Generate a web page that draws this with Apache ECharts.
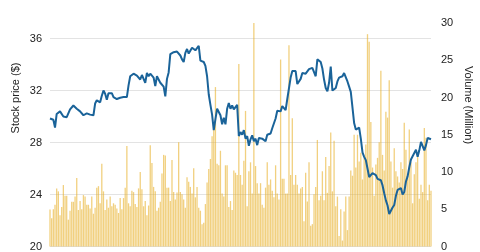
<!DOCTYPE html>
<html>
<head>
<meta charset="utf-8">
<script src="https://cdn.jsdelivr.net/npm/echarts@6/dist/echarts.min.js"></script>
<style>
html,body{margin:0;padding:0;background:#fff;}
#chart{width:480px;height:252px;}
</style>
</head>
<body>
<div id="chart"></div>
<script>
// Daily stock price ($), left axis
const price = [
29.85,29.8,29.75,29.15,30.2,30.3,30.4,30.5,30.0,30.05,
29.95,29.8,30.55,30.7,30.85,30.9,30.6,30.55,30.4,30.35,
30.1,30.15,30.25,30.4,30.15,30.1,30.1,31.0,31.25,31.4,
31.1,31.6,32.0,31.75,31.3,31.8,31.7,31.8,31.5,31.4,
31.35,31.3,31.45,31.6,31.5,31.45,31.5,32.4,33.1,33.0,
33.3,33.2,33.15,33.2,32.85,33.2,33.1,32.6,33.35,33.1,
33.3,33.45,33.0,32.35,33.1,33.05,32.6,32.45,32.3,31.55,
32.9,33.4,34.8,34.9,34.95,34.9,35.0,35.05,34.7,34.4,
34.2,34.9,35.2,34.85,34.85,35.3,35.3,35.1,35.1,35.45,
34.3,34.35,34.2,33.9,33.1,31.7,30.9,30.15,28.95,29.8,
30.6,30.6,30.1,29.4,29.9,29.4,30.6,31.05,30.6,30.85,
30.55,30.45,30.9,28.5,28.8,28.6,28.95,28.3,28.5,27.75,
28.25,28.55,28.1,28.3,27.8,28.35,28.45,28.3,28.4,28.1,
28.6,28.55,28.7,29.1,29.0,29.85,30.45,30.35,30.4,30.8,
30.7,30.5,31.35,31.5,33.0,33.5,33.5,33.5,32.5,32.4,
32.9,33.35,33.2,33.3,33.45,33.65,33.75,33.75,33.9,33.1,
34.4,34.35,34.2,33.7,32.85,32.2,31.95,32.6,33.85,32.0,
32.05,32.2,32.7,33.0,33.05,33.1,33.35,33.2,32.7,32.3,
31.9,30.7,29.5,29.0,29.05,29.15,28.3,27.25,26.9,26.65,
26.0,25.35,25.5,25.65,25.5,25.5,25.2,25.3,25.1,24.7,
24.1,23.55,23.15,22.5,22.75,23.0,23.2,23.9,24.35,24.4,
24.5,24.0,24.2,25.0,25.4,26.1,26.7,26.95,27.2,27.45,
26.9,27.4,28.05,28.05,27.4,27.8,28.35,28.3,28.25
];
// Daily volume (million shares), right axis
const volume = [
4.95,3.8,5.0,5.6,7.8,7.4,4.2,5.3,8.25,6.8,
6.8,3.6,4.8,6.0,6.0,6.7,9.2,4.9,6.1,5.0,
6.9,6.7,5.6,5.6,5.1,6.7,4.4,5.2,7.9,8.1,
5.8,11.1,7.4,4.9,6.3,5.2,6.7,5.4,5.8,5.6,
5.1,4.5,6.5,5.0,6.5,7.9,13.5,5.8,5.4,7.5,
7.3,5.7,5.3,7.8,10.0,7.7,5.4,6.1,4.2,5.5,
13.6,11.2,8.0,7.4,4.8,5.2,6.0,9.8,12.3,12.2,
7.9,7.9,6.1,11.6,7.3,6.3,
7.25,14.0,7.3,7.0,6.3,5.2,9.3,8.7,8.0,7.1,
10.5,6.6,8.0,5.2,4.8,3.0,3.2,5.7,8.6,10.4,
11.75,14.8,15.7,21.4,11.1,10.9,12.85,7.1,6.7,10.9,
10.9,5.3,6.1,4.9,10.2,9.9,9.6,24.5,9.6,8.3,
11.5,18.2,5.4,10.1,11.3,7.1,30.3,10.8,8.5,7.1,
8.5,5.6,5.2,7.9,11.3,8.3,9.0,7.5,6.6,10.9,
7.1,6.3,25.1,9.1,9.1,7.1,7.1,27.0,9.6,17.2,
8.3,9.6,8.3,7.1,
7.8,8.0,3.4,9.9,6.05,11.3,2.8,3.0,7.0,8.0,
14.3,6.2,6.8,10.1,6.2,12.0,7.2,10.8,15.3,7.4,
14.2,5.4,6.7,1.4,5.0,0.8,4.7,6.7,2.2,6.7,
10.2,9.5,15.0,10.6,15.0,11.4,12.6,9.0,11.9,13.7,
28.5,27.5,16.7,10.6,6.8,11.0,11.9,14.0,23.6,12.3,
10.2,18.1,17.3,22.3,11.4,7.9,13.2,10.1,9.4,8.6,
11.3,10.4,16.6,13.0,9.2,15.7,11.3,5.8,9.7,11.3,
12.3,6.4,8.3,7.3,15.9,14.6,6.2,8.3,7.5
];
const priceTicks = [20, 24, 28, 32, 36];
const volumeTicks = [0, 5, 10, 15, 20, 25, 30];
const leftName = 'Stock price ($)';
const rightName = 'Volume (Million)';

const days = price.map((_, i) => i);
const priceData = price.map((v, i) => [days[i], v]);
const volumeData = volume.map((v, i) => [i, v]);

const chart = echarts.init(document.getElementById('chart'), null, {renderer: 'canvas'});
const font = 'Liberation Sans, Arial, sans-serif';
chart.setOption({
  animation: false,
  backgroundColor: '#ffffff',
  textStyle: {fontFamily: font},
  grid: {left: 50, right: 49, top: 23, bottom: 1.5, containLabel: false},
  xAxis: {
    type: 'value', min: 0, max: price.length - 1, show: false
  },
  yAxis: [
    {
      type: 'value', min: priceTicks[0], max: 37.2, interval: 4, position: 'left',
      axisLine: {show: false}, axisTick: {show: false},
      axisLabel: {color: '#222', fontSize: 11, fontFamily: font, margin: 8, showMaxLabel: false},
      splitLine: {show: true, showMaxLine: false, lineStyle: {color: '#e3e3e3', width: 1}}
    },
    {
      type: 'value', min: volumeTicks[0], max: volumeTicks[volumeTicks.length - 1], interval: 5, position: 'right',
      axisLine: {show: false}, axisTick: {show: false},
      axisLabel: {color: '#222', fontSize: 11, fontFamily: font, margin: 10},
      splitLine: {show: false}
    }
  ],
  graphic: [
    {type: 'text', x: 16, y: 98, rotation: Math.PI / 2,
     style: {text: leftName, fill: '#222', font: '11px ' + font, align: 'center', verticalAlign: 'middle'}},
    {type: 'text', x: 468, y: 105, rotation: -Math.PI / 2,
     style: {text: rightName, fill: '#222', font: '11px ' + font, align: 'center', verticalAlign: 'middle'}}
  ],
  series: [
    {
      type: 'bar', yAxisIndex: 1, data: volumeData, barWidth: 1.3,
      itemStyle: {color: 'rgba(232,176,42,0.6)'}, z: 1
    },
    {
      type: 'line', yAxisIndex: 0, data: priceData, showSymbol: false, symbol: 'none',
      lineStyle: {color: '#1a6399', width: 2}, z: 3
    }
  ]
});
</script>
</body>
</html>
